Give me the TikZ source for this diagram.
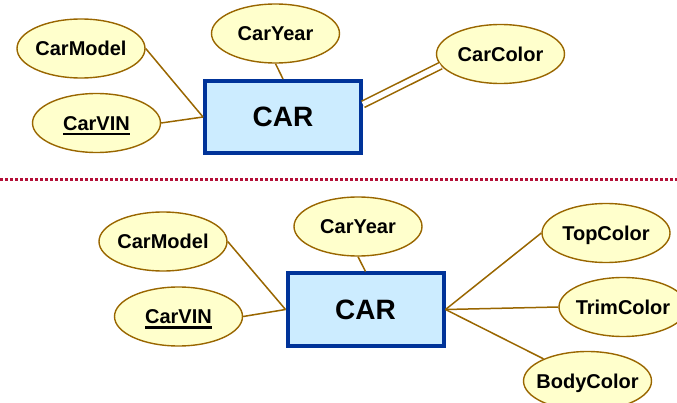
\documentclass[tikz,border=0pt]{standalone}
\usepackage{fontspec}
\setmainfont{Liberation Sans}
\usetikzlibrary{shapes.geometric}

\definecolor{attrfill}{RGB}{255,255,204}
\definecolor{attrline}{RGB}{153,102,0}
\definecolor{entfill}{RGB}{204,236,255}
\definecolor{entline}{RGB}{0,51,153}
\definecolor{sepline}{RGB}{180,16,56}

% key attribute: underlined with a heavy rule
\newcommand\keyattr[1]{\vtop{\hbox{#1}\kern2.2pt\hrule height 2.4pt}}

\tikzset{
  attr/.style={ellipse, draw=attrline, fill=attrfill, line width=1.4pt,
    minimum width=128pt, minimum height=59pt, inner xsep=-15pt, inner ysep=0pt,
    text height=14.5pt, text depth=0pt,
    font=\fontsize{20}{24}\selectfont\bfseries},
  entity/.style={rectangle, draw=entline, fill=entfill, line width=4pt,
    minimum width=156pt, minimum height=72pt, inner sep=0pt,
    text height=20pt, text depth=0pt,
    font=\fontsize{28}{32}\selectfont\bfseries},
  link/.style={draw=attrline, line width=1.5pt},
  multilink/.style={draw=attrline, line width=1.6pt, double=white, double distance=5.2pt},
  divider/.style={draw=sepline, line width=3pt, dash pattern=on 2.5pt off 2.5pt}
}

\begin{document}
\begin{tikzpicture}[x=1pt,y=-1pt]
\useasboundingbox (0,0) rectangle (677,403);

% ---- single-valued colour attribute ----
\node[entity] (tCar) at (283,117) {CAR};
\node[attr] (tModel) at (81,48.5) {CarModel};
\node[attr] (tVIN) at (96.5,123) {\keyattr{CarVIN}};
\node[attr] (tYear) at (275.5,33.5) {CarYear};
\node[attr] (tColor) at (500.5,54) {CarColor};

\draw[link] (tModel.east) -- (tCar.west);
\draw[link] (tVIN.east) -- (tCar.west);
\draw[link] (tYear.south) -- (tCar.north);
\draw[multilink] (tCar.9.5) -- (tColor.191);

% ---- separator ----
\coordinate (sepL) at (0,180);
\coordinate (sepR) at (677,180);
\draw[divider] (sepL) -- (sepR);

% ---- colour split into three attributes ----
\node[entity] (bCar) at (365.5,309.5) {CAR};
\node[attr] (bModel) at (163,241.5) {CarModel};
\node[attr] (bVIN) at (178.5,316.5) {\keyattr{CarVIN}};
\node[attr] (bYear) at (358,226.5) {CarYear};
\node[attr] (bTop) at (606,233) {TopColor};
\node[attr] (bTrim) at (623,307) {TrimColor};
\node[attr] (bBody) at (587.5,381) {BodyColor};

\draw[link] (bModel.east) -- (bCar.west);
\draw[link] (bVIN.east) -- (bCar.west);
\draw[link] (bYear.south) -- (bCar.north);
\draw[link] (bCar.east) -- (bTop.west);
\draw[link] (bCar.east) -- (bTrim.west);
\draw[link] (bCar.east) -- (bBody);
\end{tikzpicture}
\end{document}
